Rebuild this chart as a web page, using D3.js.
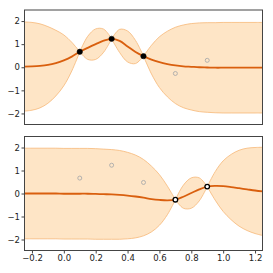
<!DOCTYPE html>
<html>
<head>
<meta charset="utf-8">
<script src="https://cdn.jsdelivr.net/npm/d3@7"></script>
<style>
  body { margin: 0; background: #fff; }
  text { font-family: "DejaVu Sans", sans-serif; }
</style>
</head>
<body>
<script>
var gridX = [-0.25, -0.2, -0.15, -0.1, -0.05, 0, 0.05, 0.1, 0.15, 0.2, 0.25, 0.3, 0.35, 0.4, 0.45, 0.5,
             0.55, 0.6, 0.65, 0.7, 0.75, 0.8, 0.85, 0.9, 0.95, 1.0, 1.05, 1.1, 1.15, 1.2, 1.25];

// top panel: posterior mean and half width of the shaded band
var topMean = [0.03, 0.04, 0.06, 0.10, 0.18, 0.30, 0.46, 0.67, 0.84, 1.00, 1.15, 1.23, 1.14, 0.90, 0.66, 0.48,
               0.33, 0.22, 0.14, 0.08, 0.04, 0.02, 0.00, -0.01, -0.02, -0.02, -0.02, -0.02, -0.02, -0.02, -0.02];
var topBand = [1.93, 1.90, 1.82, 1.66, 1.42, 1.10, 0.62, 0, 0.50, 0.66, 0.50, 0, 0.50, 0.67, 0.50, 0,
               0.62, 1.10, 1.42, 1.65, 1.79, 1.87, 1.92, 1.94, 1.95, 1.96, 1.96, 1.96, 1.96, 1.96, 1.96];

// bottom panel
var botMean = [0.00, 0.00, 0.00, 0.00, 0.00, -0.01, -0.01, -0.01, -0.01, -0.02, -0.03, -0.04, -0.06, -0.09, -0.13, -0.18,
               -0.24, -0.28, -0.30, -0.27, -0.14, 0.02, 0.18, 0.30, 0.33, 0.32, 0.28, 0.23, 0.18, 0.13, 0.09];
var botBand = [1.97, 1.97, 1.97, 1.97, 1.97, 1.97, 1.97, 1.97, 1.97, 1.97, 1.96, 1.95, 1.93, 1.88, 1.80, 1.66,
               1.43, 1.10, 0.62, 0, 0.50, 0.66, 0.50, 0, 0.62, 1.10, 1.42, 1.65, 1.79, 1.87, 1.92];

// observations
var obsX = [0.1, 0.3, 0.5, 0.7, 0.9];
var obsY = [0.67, 1.23, 0.48, -0.27, 0.30];
var topSeen = [true, true, true, false, false];
var botSeen = [false, false, false, true, true];

var xTicks = [-0.2, 0.0, 0.2, 0.4, 0.6, 0.8, 1.0, 1.2];
var yTicks = [-2, -1, 0, 1, 2];

var w = 273, h = 273;
var left = 24, right = 263;

var svg = d3.select("body").append("svg")
    .attr("width", w)
    .attr("height", h);

var x = d3.scaleLinear().domain([-0.25, 1.25]).range([left, right]);

function panel(top, bottom, mean, band, seen, showX, id) {
    var y = d3.scaleLinear().domain([-2.5, 2.5]).range([bottom, top]);
    var g = svg.append("g");

    g.append("clipPath").attr("id", id)
        .append("rect")
        .attr("x", left).attr("y", top)
        .attr("width", right - left).attr("height", bottom - top);

    var pts = gridX.map(function (d, i) {
        return { x: d, m: mean[i], b: band[i] };
    });

    // split band where it pinches to zero so the edges cross with a kink
    var pieces = [], cur = [];
    pts.forEach(function (p, i) {
        cur.push(p);
        if (p.b === 0 && i > 0 && i < pts.length - 1) {
            pieces.push(cur);
            cur = [p];
        }
    });
    pieces.push(cur);

    var area = d3.area()
        .x(function (d) { return x(d.x); })
        .y0(function (d) { return y(d.m - d.b); })
        .y1(function (d) { return y(d.m + d.b); })
        .curve(d3.curveCatmullRom);

    var plot = g.append("g").attr("clip-path", "url(#" + id + ")");

    plot.selectAll("path.band")
        .data(pieces)
        .enter()
        .append("path")
        .attr("class", "band")
        .attr("d", area)
        .attr("fill", "#fee5c6")
        .attr("stroke", "#f6b877")
        .attr("stroke-width", 0.8);

    var line = d3.line()
        .x(function (d) { return x(d.x); })
        .y(function (d) { return y(d.m); })
        .curve(d3.curveCatmullRom);

    plot.append("path")
        .datum(pts)
        .attr("d", line)
        .attr("fill", "none")
        .attr("stroke", "#d95f0e")
        .attr("stroke-width", 1.8);

    var obs = obsX.map(function (d, i) { return { x: d, y: obsY[i], seen: seen[i] }; });

    // hidden points first (light grey rings)
    plot.selectAll("circle.hid")
        .data(obs.filter(function (d) { return !d.seen; }))
        .enter()
        .append("circle")
        .attr("cx", function (d) { return x(d.x); })
        .attr("cy", function (d) { return y(d.y); })
        .attr("r", 2)
        .attr("fill", "none")
        .attr("stroke", "#aaa")
        .attr("stroke-width", 0.9);

    plot.selectAll("circle.obs")
        .data(obs.filter(function (d) { return d.seen; }))
        .enter()
        .append("circle")
        .attr("cx", function (d) { return x(d.x); })
        .attr("cy", function (d) { return y(d.y); })
        .attr("r", showX ? 2.3 : 2.7)
        .attr("fill", showX ? "#fff" : "#000")
        .attr("stroke", "#000")
        .attr("stroke-width", showX ? 1.3 : 0.5);

    // frame
    g.append("rect")
        .attr("x", left + 0.5).attr("y", top + 0.5)
        .attr("width", right - left - 1).attr("height", bottom - top - 1)
        .attr("fill", "none")
        .attr("stroke", "#444")
        .attr("stroke-width", 1);

    var yAxis = g.append("g")
        .attr("transform", "translate(" + left + ",0)")
        .call(d3.axisLeft(y).tickValues(yTicks).tickSize(2.5).tickPadding(1.5)
            .tickFormat(function (d) { return d < 0 ? "\u2212" + Math.abs(d) : d; }));
    yAxis.select(".domain").remove();
    yAxis.selectAll("line").attr("stroke", "#444");
    yAxis.selectAll("text").attr("font-size", "8.5px").attr("fill", "#222")
        .style("font-family", "DejaVu Sans");

    if (showX) {
        var xAxis = g.append("g")
            .attr("transform", "translate(0," + bottom + ")")
            .call(d3.axisBottom(x).tickValues(xTicks).tickSize(2.5).tickPadding(1.5)
                .tickFormat(function (d) { return d < 0 ? "\u2212" + d3.format(".1f")(-d) : d3.format(".1f")(d); }));
        xAxis.select(".domain").remove();
        xAxis.selectAll("line").attr("stroke", "#444");
        xAxis.selectAll("text").attr("font-size", "8.5px").attr("fill", "#222")
            .style("font-family", "DejaVu Sans");
    }
}

panel(9.5, 125, topMean, topBand, topSeen, false, "clipTop");
panel(136, 251, botMean, botBand, botSeen, true, "clipBot");
</script>
</body>
</html>
